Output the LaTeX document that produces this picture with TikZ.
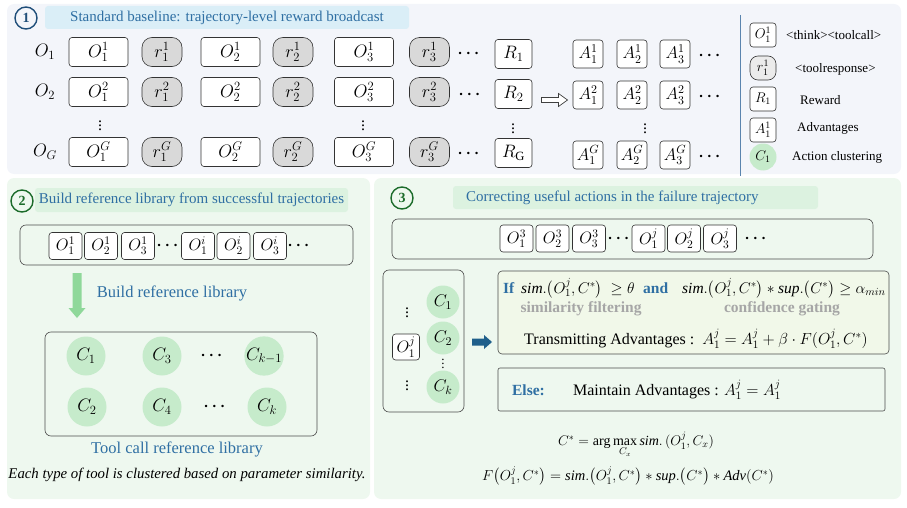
\RequirePackage{fix-cm}
\documentclass[tikz,border=0pt]{standalone}
\usepackage{amsmath}
\usepackage{fontspec}
\setmainfont{Liberation Serif}
\usetikzlibrary{arrows.meta}
\newcommand{\myfs}[1]{\fontsize{#1}{#1}\selectfont}
\definecolor{pbgA}{HTML}{F3F5FA}
\definecolor{pbgB}{HTML}{EEF8EF}
\definecolor{tbgA}{HTML}{DAEEF7}
\definecolor{tbgB}{HTML}{DCF2E0}
\definecolor{tblue}{HTML}{2F6FA3}
\definecolor{cblue}{HTML}{1F4E79}
\definecolor{cgreenD}{HTML}{1B6B2A}
\definecolor{cgreen}{HTML}{C6EBCB}
\definecolor{rgray}{HTML}{D9D9D9}
\definecolor{rgrayL}{HTML}{EBEBEB}
\definecolor{ifbg}{HTML}{F1F8E9}
\definecolor{gtext}{HTML}{A6A6A6}
\definecolor{arrblue}{HTML}{1F5F8B}
\definecolor{garrow}{HTML}{8FD89A}
\definecolor{lline}{HTML}{5A84AE}
\tikzset{
  obox/.style={draw=black!80, rounded corners=3pt, fill=white, minimum width=59pt, minimum height=29pt, inner sep=0pt, line width=0.6pt, font=\myfs{18}},
  rbox/.style={draw=black!80, rounded corners=10pt, fill=rgray, minimum width=40pt, minimum height=29pt, inner sep=0pt, line width=0.6pt, font=\myfs{18}},
  Rbox/.style={draw=black!80, rounded corners=3pt, fill=white, minimum width=37pt, minimum height=29pt, inner sep=0pt, line width=0.6pt, font=\myfs{18}},
  abox/.style={draw=black!80, rounded corners=3pt, fill=white, minimum width=30pt, minimum height=28pt, inner sep=0pt, line width=0.6pt, font=\myfs{17}},
  sbox/.style={draw=black!80, rounded corners=3pt, fill=white, minimum width=33pt, minimum height=27pt, inner sep=0pt, line width=0.6pt, font=\myfs{16.5}},
  lbox/.style={draw=black!80, rounded corners=3pt, fill=white, minimum width=26pt, minimum height=24pt, inner sep=0pt, line width=0.6pt, font=\myfs{14}},
  cnode/.style={circle, fill=cgreen, minimum size=39pt, inner sep=0pt, font=\myfs{18}},
  cnodeS/.style={circle, fill=cgreen, minimum size=33pt, inner sep=0pt, font=\myfs{17}},
  bigbox/.style={draw=black!70, rounded corners=6pt, line width=0.6pt},
  dotsnode/.style={inner sep=0pt, font=\myfs{16}},
  ltext/.style={anchor=west, inner sep=0pt, font=\myfs{13}},
  ttl/.style={rounded corners=3pt, text=tblue, font=\myfs{15}, inner sep=0pt},
  numc/.style={circle, line width=1.4pt, minimum size=22pt, inner sep=0pt, font=\myfs{14}\bfseries},
}
\begin{document}
\begin{tikzpicture}[x=1pt,y=-1pt]
\useasboundingbox (0,0) rectangle (907,508);
% panels
\fill[pbgA, rounded corners=7pt] (7,4) rectangle (901,174);
\fill[pbgB, rounded corners=7pt] (7,178) rectangle (370,499);
\fill[pbgB, rounded corners=7pt] (374,178) rectangle (901,499);

% ---------- panel 1 ----------
\node[numc, draw=cblue, text=cblue] (n1) at (26,18) {1};
\node[ttl, fill=tbgA, minimum width=364pt, minimum height=23pt] (t1) at (227,17.5) {Standard baseline: trajectory-level reward broadcast};

\node[font=\myfs{18}, inner sep=0pt] (L1) at (45,52) {$O_1$};
\node[font=\myfs{18}, inner sep=0pt] (L2) at (45,92) {$O_2$};
\node[font=\myfs{18}, inner sep=0pt] (LG) at (45,152) {$O_G$};

\foreach \r/\y/\s in {1/52/1, 2/92/2, G/152/G}{
  \node[obox] (o1\r) at (98.5,\y) {$O_1^{\s}$};
  \node[rbox] (r1\r) at (162,\y) {$r_1^{\s}$};
  \node[obox] (o2\r) at (230.5,\y) {$O_2^{\s}$};
  \node[rbox] (r2\r) at (293,\y) {$r_2^{\s}$};
  \node[obox] (o3\r) at (364,\y) {$O_3^{\s}$};
  \node[rbox] (r3\r) at (429.5,\y) {$r_3^{\s}$};
}
\node[dotsnode] (d1) at (470,54) {$\boldsymbol{\cdots}$};
\node[dotsnode] (d2) at (471,95) {$\boldsymbol{\cdots}$};
\node[dotsnode] (dG) at (470,154) {$\boldsymbol{\cdots}$};
\node[Rbox] (R1) at (513.5,54) {$R_1$};
\node[Rbox] (R2) at (513.5,94) {$R_2$};
\node[Rbox] (RG) at (513.5,153) {$R_\mathrm{G}$};
\node[dotsnode] (vo1) at (100,123) {$\boldsymbol{\vdots}$};
\node[dotsnode] (vo3) at (363,123) {$\boldsymbol{\vdots}$};
\node[dotsnode] (vR) at (513,126) {$\boldsymbol{\vdots}$};
\node[dotsnode] (vA) at (645,126) {$\boldsymbol{\vdots}$};

% hollow block arrow
\coordinate (dblc) at (554.5,100);
\draw[black!75, fill=white, line width=0.7pt, shift={(dblc)}]
  (-13,-2.5) -- (4,-2.5) -- (4,-6.5) -- (13,0) -- (4,6.5) -- (4,2.5) -- (-13,2.5) -- cycle;

\foreach \r/\y/\s in {1/54/1, 2/95/2, G/155/G}{
  \node[abox] (a1\r) at (588,\y) {$A_1^{\s}$};
  \node[abox] (a2\r) at (632,\y) {$A_2^{\s}$};
  \node[abox] (a3\r) at (675,\y) {$A_3^{\s}$};
  \node[dotsnode] (ad\r) at (711,\y+2) {$\boldsymbol{\cdots}$};
}

% legend
\coordinate (lt) at (740,15);
\coordinate (lb) at (740,176);
\draw[lline, line width=0.8pt] (lt) -- (lb);
\node[lbox] (lg1) at (763,35) {$O_1^1$};
\node[ltext] (lt1) at (786,35) {<think><toolcall>};
\node[lbox, fill=rgrayL, rounded corners=8pt] (lg2) at (763,68) {$r_1^1$};
\node[ltext] (lt2) at (795,69) {<toolresponse>};
\node[lbox] (lg3) at (763,99) {$R_1$};
\node[ltext] (lt3) at (800,100) {Reward};
\node[lbox] (lg4) at (763,130) {$A_1^1$};
\node[ltext] (lt4) at (797,128) {Advantages};
\node[circle, fill=cgreen, minimum size=27pt, inner sep=0pt, font=\myfs{14}] (lg5) at (763,157) {$C_1$};
\node[ltext] (lt5) at (792,157) {Action clustering};

% ---------- panel 2 ----------
\node[numc, draw=cgreenD, text=cgreenD] (n2) at (22,201) {2};
\node[ttl, fill=tbgB, minimum width=313pt, minimum height=24pt] (t2) at (191.5,200) {Build reference library from successful trajectories};
\node[bigbox, minimum width=333pt, minimum height=40pt] (traj2) at (186.5,245) {};
\node[sbox] (s1) at (65.5,246) {$O_1^1$};
\node[sbox] (s2) at (101,246) {$O_2^1$};
\node[sbox] (s3) at (138,246) {$O_3^1$};
\node[dotsnode] (s4) at (169,246) {$\boldsymbol{\cdots}$};
\node[sbox] (s5) at (198,246) {$O_1^i$};
\node[sbox] (s6) at (233.5,246) {$O_2^i$};
\node[sbox] (s7) at (270,246) {$O_3^i$};
\node[dotsnode] (s8) at (300,246) {$\boldsymbol{\cdots}$};
\coordinate (gtop) at (77,273);
\fill[garrow, shift={(gtop)}]
  (-4.5,0) -- (4.5,0) -- (4.5,35) -- (8.5,35) -- (0,45) -- (-8.5,35) -- (-4.5,35) -- cycle;
\node[text=tblue, font=\myfs{16.5}, inner sep=0pt] (blr) at (172,293) {Build reference library};
\node[bigbox, minimum width=272pt, minimum height=104pt] (lib) at (181,384) {};
\node[cnode] (c1) at (86,356) {$C_1$};
\node[cnode] (c3) at (162,356) {$C_3$};
\node[dotsnode] (cd1) at (213,356) {$\boldsymbol{\cdots}$};
\node[cnode] (ck1) at (264,356) {$C_{k-1}$};
\node[cnode] (c2) at (87,407) {$C_2$};
\node[cnode] (c4) at (162,407) {$C_4$};
\node[dotsnode] (cd2) at (216,407) {$\boldsymbol{\cdots}$};
\node[cnode] (ck) at (267,407) {$C_k$};
\node[text=tblue, font=\myfs{16.5}, inner sep=0pt] (tcl) at (177,449) {Tool call reference library};
\node[font=\myfs{14.8}\itshape, inner sep=0pt] (cap) at (187,475) {Each type of tool is clustered based on parameter similarity.};

% ---------- panel 3 ----------
\node[numc, draw=cgreenD, text=cgreenD] (n3) at (402,198) {3};
\node[ttl, fill=tbgB, minimum width=365pt, minimum height=23pt] (t3) at (635.5,197.5) {};
\node[anchor=west, inner sep=0pt, text=tblue, font=\myfs{15}] (t3txt) at (466,197.5) {Correcting useful actions in the failure trajectory};
\node[bigbox, minimum width=481pt, minimum height=40pt] (traj3) at (632.5,239) {};
\node[sbox] (u1) at (516.5,238.5) {$O_1^3$};
\node[sbox] (u2) at (552.5,238.5) {$O_2^3$};
\node[sbox] (u3) at (589,238.5) {$O_3^3$};
\node[dotsnode] (u4) at (620,238.5) {$\boldsymbol{\cdots}$};
\node[sbox] (u5) at (648.5,238.5) {$O_1^j$};
\node[sbox] (u6) at (684,238.5) {$O_2^j$};
\node[sbox] (u7) at (720,238.5) {$O_3^j$};
\node[dotsnode] (u8) at (757,238.5) {$\boldsymbol{\cdots}$};

\node[bigbox, minimum width=81pt, minimum height=142pt] (lbx) at (423.5,341) {};
\node[dotsnode] (lv1) at (407,310) {$\boldsymbol{\vdots}$};
\node[sbox, minimum width=27pt, minimum height=26pt] (oj) at (406,347) {$O_1^j$};
\node[dotsnode] (lv2) at (407,383) {$\boldsymbol{\vdots}$};
\node[cnodeS] (k1) at (443,302) {$C_1$};
\node[cnodeS] (k2) at (443,338) {$C_2$};
\node[dotsnode, font=\myfs{13}] (kv) at (443,361) {$\boldsymbol{\vdots}$};
\node[cnodeS] (kk) at (443,387) {$C_k$};
\coordinate (bac) at (482,342);
\fill[arrblue, shift={(bac)}]
  (-10,-3.5) -- (2,-3.5) -- (2,-7) -- (10,0) -- (2,7) -- (2,3.5) -- (-10,3.5) -- cycle;

\node[draw=black!70, fill=ifbg, rounded corners=4pt, line width=0.6pt, minimum width=391pt, minimum height=83pt] (ifb) at (693.5,312.5) {};
\node[anchor=base west, inner sep=0pt, text=tblue, font=\myfs{15.5}\bfseries] (ifw) at (503,293) {If};
\node[anchor=base west, inner sep=0pt, font=\myfs{15.5}] (f1) at (521,293) {$\mathit{sim.}\bigl(O_1^j, C^*\bigr)\ \geq \theta$};
\node[anchor=base west, inner sep=0pt, text=tblue, font=\myfs{15.5}\bfseries] (andw) at (643,293) {and};
\node[anchor=base west, inner sep=0pt, font=\myfs{15.5}] (f2) at (682,293) {$\mathit{sim.}\bigl(O_1^j, C^*\bigr) * \mathit{sup.}\bigl(C^*\bigr) \geq \alpha_{min}$};
\node[inner sep=0pt, text=gtext, font=\myfs{15.5}\bfseries] (sf) at (581,309) {similarity filtering};
\node[inner sep=0pt, text=gtext, font=\myfs{15.5}\bfseries] (cg) at (782,309) {confidence gating};
\node[inner sep=0pt, font=\myfs{16}] (tr) at (696,339) {Transmitting Advantages :\ \ $A_1^j = A_1^j + \beta\cdot F(O_1^j, C^*)$};

\node[draw=black!70, rounded corners=2pt, line width=0.6pt, minimum width=387pt, minimum height=43pt] (elb) at (691.5,389.5) {};
\node[inner sep=0pt, text=tblue, font=\myfs{15.5}\bfseries] (elw) at (528.5,390) {Else:};
\node[inner sep=0pt, font=\myfs{16}] (mt) at (677,390) {Maintain Advantages : $A_1^j = A_1^j$};

\node[inner sep=0pt, font=\myfs{14}] (fc) at (636,445) {$C^* = \arg\max\limits_{C_x} \mathit{sim.}\,(O_1^j, C_x)$};
\node[inner sep=0pt, font=\myfs{14.5}] (ff) at (628,476) {$F\bigl(O_1^j, C^*\bigr) = \mathit{sim.}\bigl(O_1^j, C^*\bigr) * \mathit{sup.}\bigl(C^*\bigr) * \mathit{Adv}(C^*)$};
\end{tikzpicture}
\end{document}
